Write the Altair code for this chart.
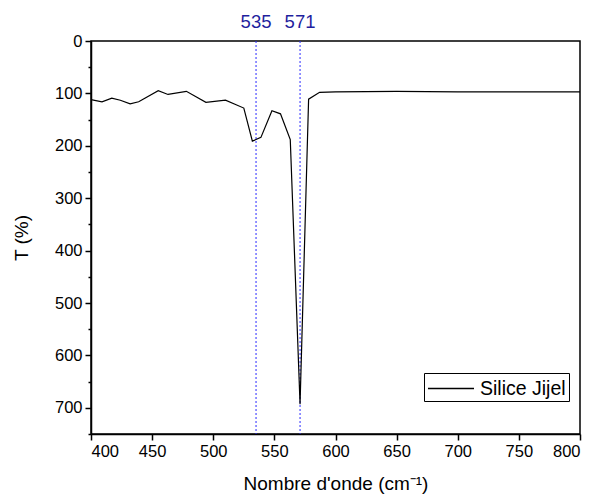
import altair as alt
import pandas as pd

wavenumber = [400, 409, 417, 424, 432, 439, 455, 463, 478, 494, 510, 525, 532, 539,
              548, 555, 563, 571, 578, 587, 600, 650, 700, 750, 800]
transmittance = [112, 116, 109, 113, 120, 116, 95, 102, 96, 117, 113, 128, 191, 184,
                 133, 139, 188, 693, 111, 98, 97, 96, 97, 97, 97]
series_name = "Silice Jijel"
peaks = [535, 571]
y_ticks = [0, 50, 100, 150, 200, 250, 300, 350, 400, 450, 500, 550, 600, 650, 700, 750]
x_ticks = [400, 450, 500, 550, 600, 650, 700, 750, 800]

df = pd.DataFrame({"x": wavenumber, "y": transmittance, "s": series_name})
peak_df = pd.DataFrame({"p": peaks, "label": [str(p) for p in peaks]})

xscale = alt.Scale(domain=[400, 800], nice=False, zero=False)
yscale = alt.Scale(domain=[0, 750], reverse=True, nice=False)

FONT = "Liberation Sans"

line = alt.Chart(df).mark_line(strokeWidth=1.2).encode(
    x=alt.X("x:Q", scale=xscale,
            axis=alt.Axis(values=x_ticks, title="Nombre d'onde (cm⁻¹)", grid=False,
                          tickSize=6, labelPadding=3, titlePadding=15)),
    y=alt.Y("y:Q", scale=yscale,
            axis=alt.Axis(values=y_ticks, title="T (%)", grid=False,
                          labelExpr="datum.value % 100 == 0 ? datum.label : ''",
                          tickSize={"condition": {"test": "datum.value % 100 != 0", "value": 3},
                                    "value": 6},
                          labelPadding=3, titlePadding=23, labelOverlap=False)),
    color=alt.Color("s:N", scale=alt.Scale(range=["black"]),
                    legend=alt.Legend(title=None, orient="none", legendX=333, legendY=332,
                                      symbolType="M-1,0H3", symbolSize=529,
                                      symbolStrokeWidth=1.5, symbolStrokeColor="#444444",
                                      labelFontSize=19.5, labelFont=FONT, labelOffset=28,
                                      strokeColor="black", padding=3,
                                      cornerRadius=0, labelLimit=300)),
)

rules = alt.Chart(peak_df).mark_rule(color="#2a2aff", strokeWidth=1, strokeDash=[2, 2]).encode(
    x=alt.X("p:Q", scale=xscale)
)

labels = alt.Chart(peak_df).mark_text(color="#1f1f9e", fontSize=18.5, font=FONT,
                                      baseline="middle").encode(
    x=alt.X("p:Q", scale=xscale),
    y=alt.value(-19),
    text="label:N",
)

chart = alt.layer(rules, line, labels).properties(
    width=489, height=393,
    autosize=alt.AutoSizeParams(type="none"),
    padding={"left": 91, "top": 41, "right": 15, "bottom": 64},
).configure_view(
    stroke="black", strokeWidth=1.5
).configure_axis(
    domainColor="black", domainWidth=1.5, tickColor="black", tickWidth=1.5,
    labelColor="black", titleColor="black", labelFont=FONT, titleFont=FONT,
    labelFontSize=16.5, titleFontSize=19, titleFontWeight="normal"
)

chart.save("out.html", embed_options={"renderer": "svg", "actions": False})
